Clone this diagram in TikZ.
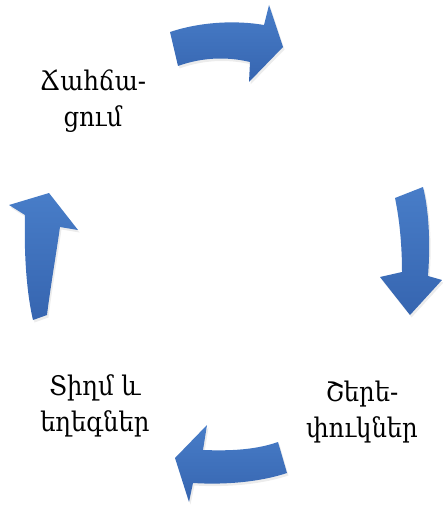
\documentclass[tikz,border=0pt]{standalone}
\usepackage{fontspec}
\newfontfamily\armfont[Script=Armenian]{DejaVu Serif Condensed}
\usetikzlibrary{shadows}
\definecolor{arrtop}{RGB}{72,125,200}
\definecolor{arrbot}{RGB}{54,101,176}
\tikzset{
  cyclearrow/.style={top color=arrtop, bottom color=arrbot, draw=none,
    drop shadow={shadow xshift=1.5pt, shadow yshift=-2.5pt, opacity=0.15}},
  label/.style={font=\armfont\fontsize{27}{36}\selectfont, align=center, inner sep=0pt}
}
\begin{document}
\begin{tikzpicture}[x=1pt,y=-1pt]
\useasboundingbox (0,0) rectangle (442,505);
% top arrow (pointing right)
\path[cyclearrow] (170,32) .. controls (200,22) and (235,20) .. (264,25)
  -- (269,5) -- (283,47) -- (249,82) -- (250,62)
  .. controls (225,56) and (200,58) .. (178,66) -- cycle;
% right arrow (pointing down)
\path[cyclearrow] (395,198) -- (423,187)
  .. controls (430,215) and (430,250) .. (428,276)
  -- (442,280) -- (410,315) -- (380,277) -- (402,272)
  .. controls (402,248) and (400,222) .. (395,198) -- cycle;
% bottom arrow (pointing left)
\path[cyclearrow] (278,442) .. controls (255,450) and (230,451) .. (203,450)
  -- (207,425) -- (175,458) -- (189,502) -- (193,483)
  .. controls (225,485) and (260,482) .. (287,473) -- cycle;
% left arrow (pointing up)
\path[cyclearrow] (33,320) .. controls (26,290) and (24,250) .. (25,215)
  -- (9,205) -- (49,193) -- (78,230) -- (60,227)
  .. controls (56,255) and (50,290) .. (47,315) -- cycle;
% labels
\node[label] (t1) at (93,101) {Ճահճա-\\ցում};
\node[label] (t2) at (362,412) {Շերե-\\փուկներ};
\node[label] (t3) at (95,406) {Տիղմ և\\եղեգներ};
\end{tikzpicture}
\end{document}
